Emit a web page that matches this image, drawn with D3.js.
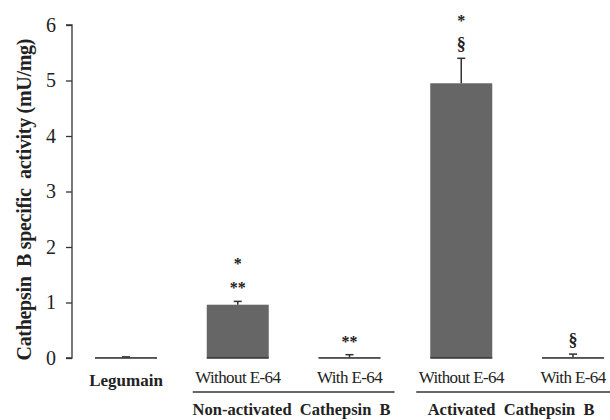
<!DOCTYPE html>
<html>
<head>
  <meta charset="utf-8">
  <script src="https://d3js.org/d3.v7.min.js"></script>
  <style>
    body { margin: 0; background: #fff; }
    text { font-family: "Liberation Serif", "DejaVu Serif", serif; fill: #222; }
  </style>
</head>
<body>
  <svg width="610" height="420"></svg>
  <script>
    // Data
    const categories = ["Legumain", "NA_without", "NA_with", "A_without", "A_with"];
    const labels = ["Legumain", "Without E-64", "With E-64", "Without E-64", "With E-64"];
    const values = [0.01, 0.96, 0.01, 4.95, 0.01];
    const errors = [0.01, 0.06, 0.05, 0.45, 0.06];
    const marks = [[], ["**", "*"], ["**"], ["§", "*"], ["§"]];
    const groups = [
      { name: "Non-activated  Cathepsin  B", from: "NA_without", to: "NA_with" },
      { name: "Activated  Cathepsin  B", from: "A_without", to: "A_with" }
    ];
    const yTicks = [0, 1, 2, 3, 4, 5, 6];

    const svg = d3.select("svg");
    const barWidth = 62;

    const x = d3.scalePoint().domain(categories).range([126, 573]);
    const y = d3.scaleLinear().domain([0, 6]).range([358, 25]);

    // y axis
    const yAxis = svg.append("g")
      .attr("transform", "translate(72,0)")
      .call(d3.axisLeft(y).tickValues(yTicks).tickFormat(d3.format("d")).tickSize(6).tickPadding(10));
    yAxis.selectAll("path, line").attr("stroke", "#333").attr("stroke-width", 1.3);
    yAxis.select(".domain").attr("d", `M-6,${y(6)}H0V${y(0)}H-6`);
    yAxis.selectAll("text").attr("font-size", 20).style("font-family", "Liberation Serif").style("fill", "#222");

    svg.append("text")
      .attr("transform", `translate(31,${(y(0) + y(6)) / 2 + 8}) rotate(-90)`)
      .attr("text-anchor", "middle")
      .attr("font-size", 20)
      .attr("font-weight", "bold")
      .attr("textLength", 322)
      .attr("lengthAdjust", "spacing")
      .style("white-space", "pre")
      .text("Cathepsin  B specific  activity (mU/mg)");

    // bars
    svg.selectAll(".bar")
      .data(categories)
      .enter().append("rect")
      .attr("x", d => x(d) - barWidth / 2)
      .attr("y", (d, i) => y(values[i]))
      .attr("width", barWidth)
      .attr("height", (d, i) => y(0) - y(values[i]))
      .attr("fill", "#666");

    // baselines under each bar
    svg.selectAll(".base")
      .data(categories)
      .enter().append("line")
      .attr("x1", d => x(d) - barWidth / 2)
      .attr("x2", d => x(d) + barWidth / 2)
      .attr("y1", y(0)).attr("y2", y(0))
      .attr("stroke", "#333").attr("stroke-width", 1.3);

    // error bars
    const eb = svg.selectAll(".err").data(categories).enter().append("g");
    eb.append("line")
      .attr("x1", d => x(d)).attr("x2", d => x(d))
      .attr("y1", (d, i) => y(values[i]))
      .attr("y2", (d, i) => y(values[i] + errors[i]))
      .attr("stroke", "#333").attr("stroke-width", 1.5);
    eb.append("line")
      .attr("x1", d => x(d) - 4).attr("x2", d => x(d) + 4)
      .attr("y1", (d, i) => y(values[i] + errors[i]))
      .attr("y2", (d, i) => y(values[i] + errors[i]))
      .attr("stroke", "#333").attr("stroke-width", 1.5);

    // significance marks
    categories.forEach((c, i) => {
      marks[i].forEach((m, j) => {
        const top = y(values[i] + errors[i]);
        svg.append("text")
          .attr("x", x(c))
          .attr("y", top - 8 - j * 24)
          .attr("text-anchor", "middle")
          .attr("font-size", m === "§" ? 18 : 16)
          .attr("font-weight", "bold")
          .text(m);
      });
    });

    // category labels
    svg.selectAll(".lab")
      .data(categories)
      .enter().append("text")
      .attr("x", d => x(d))
      .attr("y", (d, i) => i === 0 ? 386 : 383)
      .attr("text-anchor", "middle")
      .attr("font-size", 17)
      .attr("font-weight", (d, i) => i === 0 ? "bold" : "normal")
      .attr("letter-spacing", (d, i) => i === 0 ? 0 : -0.6)
      .text((d, i) => labels[i]);

    // group lines and labels
    groups.forEach(g => {
      const x1 = x(g.from) - 45, x2 = Math.min(x(g.to) + 45, 610);
      svg.append("line")
        .attr("x1", x1).attr("x2", x2)
        .attr("y1", 392).attr("y2", 392)
        .attr("stroke", "#333").attr("stroke-width", 1.6);
      svg.append("text")
        .attr("x", (x1 + x2) / 2 - 2)
        .attr("y", 415)
        .attr("text-anchor", "middle")
        .attr("font-size", 16.5)
        .attr("font-weight", "bold")
        .style("white-space", "pre")
        .text(g.name);
    });
  </script>
</body>
</html>
